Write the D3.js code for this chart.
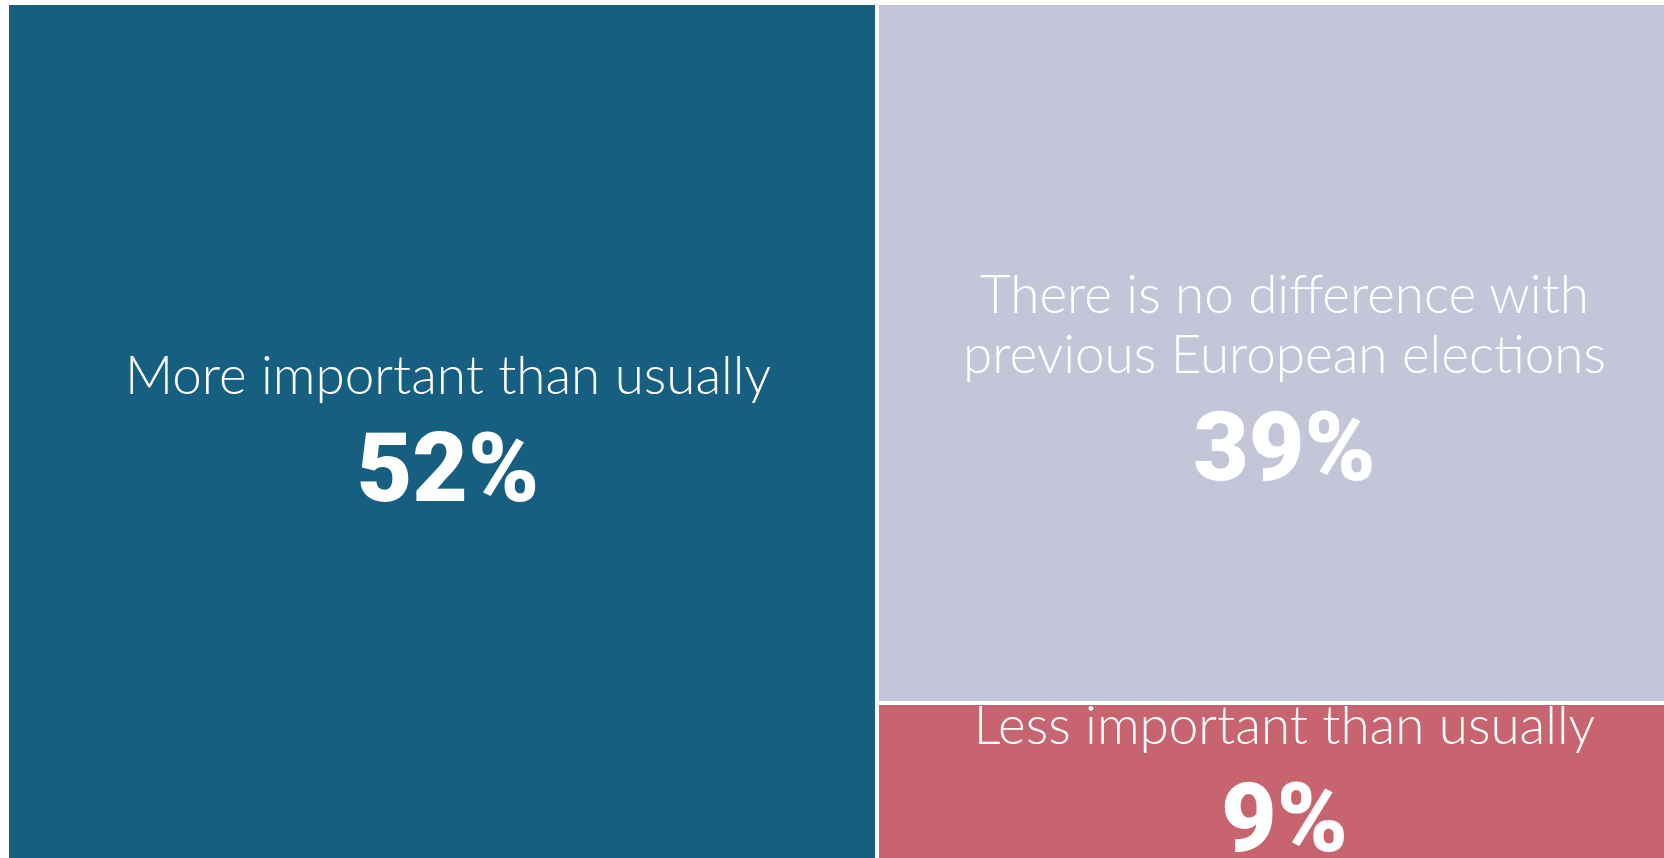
<!DOCTYPE html>
<html>
<head>
<meta charset="utf-8">
<script src="https://cdn.jsdelivr.net/npm/d3@7"></script>
<style>
  body { margin: 0; background: #ffffff; overflow: hidden; }
  .label { font-family: "Lato", sans-serif; font-weight: 300; fill: #ffffff; }
  .value { font-family: "Roboto", sans-serif; font-weight: 900; fill: #ffffff; }
</style>
</head>
<body>
<div id="chart"></div>
<script>
// Data
var categories = [
    "More important than usually",
    "There is no difference with previous European elections",
    "Less important than usually"
];
var shares = [52, 39, 9];
var colors = ["#165f81", "#c3c6d9", "#c8646f"];

var margin = { top: 5, left: 9 };
var width = 1669, height = 857;

var svg = d3.select("#chart")
    .append("svg")
    .attr("width", 1664)
    .attr("height", 858);

var g = svg.append("g")
    .attr("transform", "translate(" + margin.left + "," + margin.top + ")");

var root = d3.hierarchy({
        children: categories.map(function(c, i) {
            return { name: c, value: shares[i], color: colors[i] };
        })
    })
    .sum(function(d) { return d.value || 0; })
    .sort(function(a, b) { return b.value - a.value; });

d3.treemap()
    .size([width, height])
    .paddingInner(4)
    .round(true)(root);

var cell = g.selectAll(".cell")
    .data(root.leaves())
    .enter().append("g")
    .attr("class", "cell");

cell.append("rect")
    .attr("x", function(d) { return d.x0; })
    .attr("y", function(d) { return d.y0; })
    .attr("width", function(d) { return d.x1 - d.x0; })
    .attr("height", function(d) { return d.y1 - d.y0; })
    .style("fill", function(d) { return d.data.color; });

var labelSize = 53, lineHeight = 60, valueSize = 96, valueGap = 107;

cell.each(function(d) {
    var sel = d3.select(this);
    var cx = (d.x0 + d.x1) / 2 + 6;
    var cy = (d.y0 + d.y1) / 2;
    var maxW = (d.x1 - d.x0) - 120;

    // simple word wrap
    var probe = sel.append("text").attr("class", "label").style("font-size", labelSize + "px");
    var words = d.data.name.split(" ");
    var lines = [], line = [];
    words.forEach(function(w) {
        line.push(w);
        probe.text(line.join(" "));
        if (probe.node().getComputedTextLength() > maxW && line.length > 1) {
            line.pop();
            lines.push(line.join(" "));
            line = [w];
        }
    });
    lines.push(line.join(" "));
    probe.remove();

    var firstBase = cy - 40;

    var t = sel.append("text")
        .attr("class", "label")
        .attr("text-anchor", "middle")
        .style("font-size", labelSize + "px");
    lines.forEach(function(l, i) {
        t.append("tspan")
            .attr("x", cx)
            .attr("y", firstBase + i * lineHeight)
            .text(l);
    });

    sel.append("text")
        .attr("class", "value")
        .attr("text-anchor", "middle")
        .attr("x", cx)
        .attr("y", firstBase + (lines.length - 1) * lineHeight + valueGap)
        .style("font-size", valueSize + "px")
        .text(d.data.value + "%");
});
</script>
</body>
</html>
